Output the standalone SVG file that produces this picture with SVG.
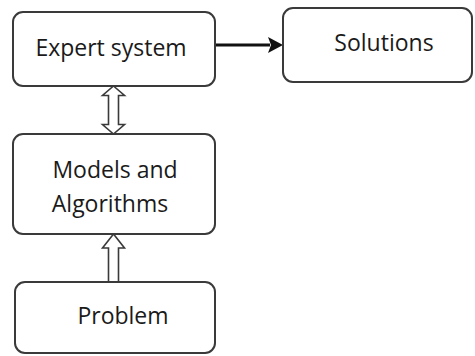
<svg xmlns="http://www.w3.org/2000/svg" width="475" height="356" viewBox="0 0 475 356">
  <style>
    .box { fill: #ffffff; stroke: #3a3a3a; stroke-width: 2; }
    .label { font-family: "Open Sans", "Liberation Sans", sans-serif; font-size: 23px; fill: #1a1a1a; text-anchor: middle; }
    .hollow { fill: #ffffff; stroke: #3a3a3a; stroke-width: 1.6; stroke-linejoin: miter; }
    .flow { stroke: #111111; stroke-width: 3; fill: none; }
  </style>
  <rect width="475" height="356" fill="#ffffff"/>

  <g id="connectors">
    <!-- Expert system -> Solutions -->
    <line class="flow" x1="215" y1="45" x2="270" y2="45"/>
    <path d="M268,37 L283,45 L268,53 L271,45 Z" fill="#111111"/>
    <!-- Expert system <-> Models and Algorithms (hollow double arrow) -->
    <path class="hollow" d="M113.5,86 L124.5,95.5 L118.5,95.5 L118.5,124.5 L124.5,124.5 L113.5,134 L102.5,124.5 L108.5,124.5 L108.5,95.5 L102.5,95.5 Z"/>
    <!-- Problem -> Models and Algorithms (hollow arrow) -->
    <path class="hollow" d="M113.5,234 L124.5,248 L118.5,248 L118.5,282 L108.5,282 L108.5,248 L102.5,248 Z"/>
  </g>

  <g id="expert-system">
    <rect class="box" x="13" y="12" width="202" height="74" rx="10"/>
    <text class="label" x="111" y="56">Expert system</text>
  </g>

  <g id="solutions">
    <rect class="box" x="283" y="8" width="189" height="74" rx="10"/>
    <text class="label" x="384" y="51">Solutions</text>
  </g>

  <g id="models-and-algorithms">
    <rect class="box" x="13" y="134" width="202" height="100" rx="10"/>
    <text class="label" x="115" y="178">Models and</text>
    <text class="label" x="110" y="212">Algorithms</text>
  </g>

  <g id="problem">
    <rect class="box" x="15" y="282" width="200" height="71" rx="10"/>
    <text class="label" x="123" y="324">Problem</text>
  </g>
</svg>
